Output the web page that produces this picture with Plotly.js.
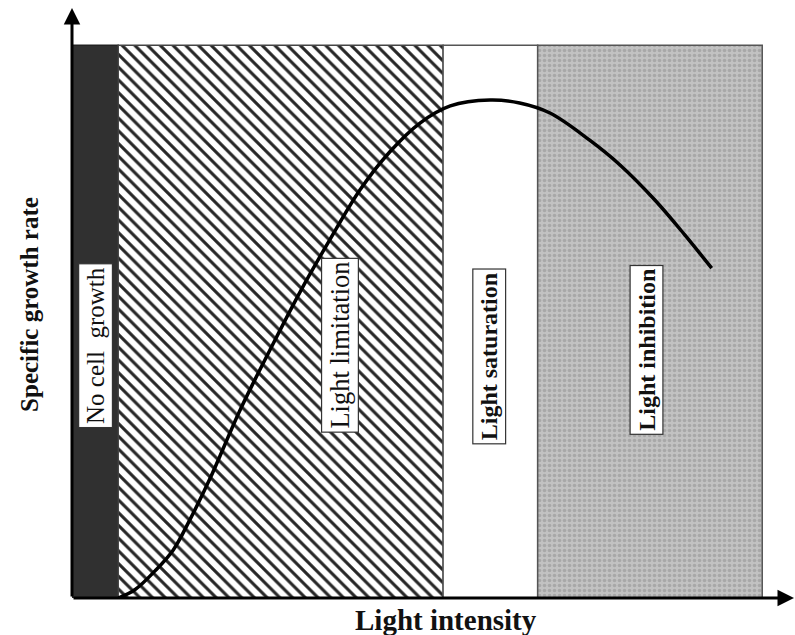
<!DOCTYPE html>
<html>
<head>
<meta charset="utf-8">
<script src="https://cdn.plot.ly/plotly-3.0.1.min.js"></script>
<style>html,body{margin:0;padding:0;background:#fff;}#chart{width:795px;height:635px;}</style>
</head>
<body>
<div id="chart"></div>
<script>
// ---- data ----
const regionNames = ["No cell  growth", "Light limitation", "Light saturation", "Light inhibition"];
const regionBounds = [0, 6.4, 51.4, 64.5, 95.6];   // light intensity boundaries (arb. units)
const regionTop = 93.7;
const lightIntensity = [6.4, 8.7, 11.5, 14.0, 16.3, 19.1, 23.3, 27.4, 31.6, 35.7, 39.9, 44.0, 48.2, 52.4, 57.9, 62.0, 66.2, 71.7, 75.9, 80.7, 84.9, 88.6];
const growthRate    = [0.0, 1.4, 4.6, 8.1, 13.2, 20.2, 31.9, 42.0, 51.9, 60.7, 69.2, 75.6, 80.5, 83.4, 84.4, 83.9, 82.2, 77.6, 73.4, 67.5, 61.5, 55.9];
const xTitle = "Light intensity";
const yTitle = "Specific growth rate";

// ---- styles ----
const regionStyles = [
  {fillcolor: "#303030", line: "#222"},
  {fillcolor: "#ffffff", line: "#444", pattern: {shape: "\\", fgcolor: "#262626", bgcolor: "#ffffff", size: 9, solidity: 0.34}},
  {fillcolor: "#ffffff", line: "#555"},
  {fillcolor: "#bcbcbc", line: "#555", pattern: {shape: ".", fgcolor: "#a8a8a8", bgcolor: "#c2c2c2", size: 5, solidity: 0.4}}
];
const labelPos = [{x: 3.2, y: 42.7, bold: false, size: 25}, {x: 37.1, y: 42.9, bold: false, size: 26.5},
                  {x: 57.8, y: 41.0, bold: true, size: 24}, {x: 79.6, y: 42.0, bold: true, size: 24}];

const traces = [];
for (let i = 0; i < regionNames.length; i++) {
  const x0 = regionBounds[i], x1 = regionBounds[i + 1];
  const st = regionStyles[i];
  const t = {
    type: "scatter", mode: "lines",
    x: [x0, x1, x1, x0, x0], y: [0, 0, regionTop, regionTop, 0],
    fill: "toself", fillcolor: st.fillcolor,
    line: {color: st.line, width: 1.5},
    hoverinfo: "skip", showlegend: false
  };
  if (st.pattern) t.fillpattern = st.pattern;
  traces.push(t);
}
traces.push({
  type: "scatter", mode: "lines", x: lightIntensity, y: growthRate,
  line: {color: "#000", width: 3.5, shape: "spline", smoothing: 1},
  showlegend: false, hoverinfo: "skip"
});

const serif = "Liberation Serif, Times New Roman, serif";
const annotations = [];
// axis arrows
annotations.push({x: 100, y: 0, ax: 0, ay: 0, xref: "x", yref: "y", axref: "x", ayref: "y",
  showarrow: true, arrowhead: 2, arrowsize: 1.1, arrowwidth: 3, arrowcolor: "#000", text: ""});
annotations.push({x: 0, y: 100, ax: 0, ay: 0, xref: "x", yref: "y", axref: "x", ayref: "y",
  showarrow: true, arrowhead: 2, arrowsize: 1.1, arrowwidth: 3, arrowcolor: "#000", text: ""});
// region labels
for (let i = 0; i < regionNames.length; i++) {
  const p = labelPos[i];
  annotations.push({
    x: p.x, y: p.y, xref: "x", yref: "y", showarrow: false, textangle: -90,
    text: p.bold ? "<b>" + regionNames[i] + "</b>" : regionNames[i],
    font: {family: serif, size: p.size, color: "#111"},
    bgcolor: "#ffffff", bordercolor: "#333", borderwidth: 1.2, borderpad: 3
  });
}
// axis titles
annotations.push({x: 0.518, y: -0.037, xref: "paper", yref: "paper", showarrow: false,
  text: "<b>" + xTitle + "</b>", font: {family: serif, size: 29, color: "#111"}, yanchor: "middle"});
annotations.push({x: -0.058, y: 0.497, xref: "paper", yref: "paper", showarrow: false, textangle: -90,
  text: "<b>" + yTitle + "</b>", font: {family: serif, size: 25, color: "#111"}, xanchor: "center"});

const layout = {
  width: 795, height: 635,
  margin: {l: 72, r: 1, t: 8, b: 37, pad: 0},
  paper_bgcolor: "#fff", plot_bgcolor: "#fff",
  xaxis: {range: [0, 100], showgrid: false, zeroline: false, showline: false, showticklabels: false, ticks: "", fixedrange: true},
  yaxis: {range: [0, 100], showgrid: false, zeroline: false, showline: false, showticklabels: false, ticks: "", fixedrange: true},
  annotations: annotations,
  showlegend: false
};
Plotly.newPlot("chart", traces, layout, {displayModeBar: false, staticPlot: true});
</script>
</body>
</html>
